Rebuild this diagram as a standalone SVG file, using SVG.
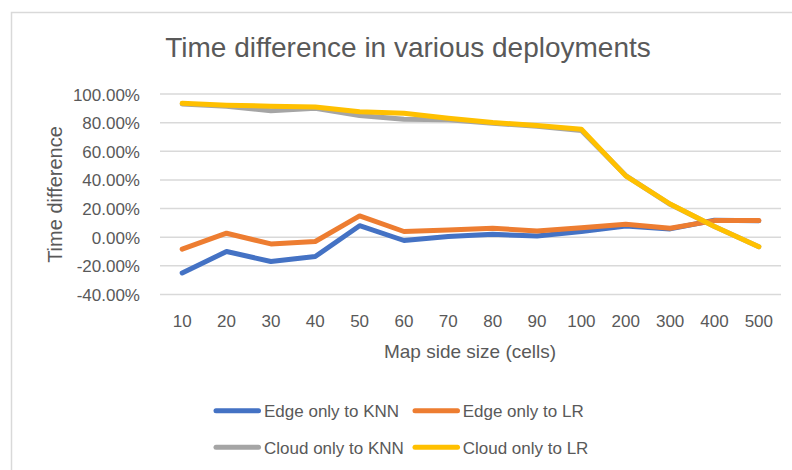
<svg xmlns="http://www.w3.org/2000/svg" width="792" height="470" viewBox="0 0 792 470">
  <style>
    text { font-family: "Liberation Sans", Arial, sans-serif; fill: #595959; }
    .title { font-size: 28px; text-anchor: middle; }
    .tick { font-size: 17px; }
    .ytick { text-anchor: end; }
    .xtick { text-anchor: middle; }
    .axis-title { font-size: 19px; text-anchor: middle; }
    .legend-text { font-size: 17px; }
    .grid line { stroke: #d9d9d9; stroke-width: 1.5; }
    .series { fill: none; stroke-width: 5; stroke-linejoin: round; stroke-linecap: round; }
    .knn-edge { stroke: #4472C4; }
    .lr-edge { stroke: #ED7D31; }
    .knn-cloud { stroke: #A5A5A5; }
    .lr-cloud { stroke: #FFC000; }
  </style>

  <rect width="792" height="470" fill="#ffffff"/>
  <!-- chart frame -->
  <path d="M11.5,470 V12.5 H792" fill="none" stroke="#d9d9d9" stroke-width="1.5"/>

  <text class="title" x="408" y="57">Time difference in various deployments</text>

  <!-- horizontal gridlines, 100% down to -40% -->
  <g class="grid">
    <line x1="160" y1="94" x2="781" y2="94"/>
    <line x1="160" y1="122.64" x2="781" y2="122.64"/>
    <line x1="160" y1="151.29" x2="781" y2="151.29"/>
    <line x1="160" y1="179.93" x2="781" y2="179.93"/>
    <line x1="160" y1="208.57" x2="781" y2="208.57"/>
    <line x1="160" y1="237.21" x2="781" y2="237.21"/>
    <line x1="160" y1="265.86" x2="781" y2="265.86"/>
    <line x1="160" y1="294.5" x2="781" y2="294.5"/>
  </g>

  <!-- y axis labels -->
  <g class="tick ytick">
    <text x="140" y="100.5">100.00%</text>
    <text x="140" y="129.1">80.00%</text>
    <text x="140" y="157.8">60.00%</text>
    <text x="140" y="186.4">40.00%</text>
    <text x="140" y="215.1">20.00%</text>
    <text x="140" y="243.7">0.00%</text>
    <text x="140" y="272.4">-20.00%</text>
    <text x="140" y="301">-40.00%</text>
  </g>

  <!-- x axis labels -->
  <g class="tick xtick">
    <text x="182.18" y="326.5">10</text>
    <text x="226.54" y="326.5">20</text>
    <text x="270.89" y="326.5">30</text>
    <text x="315.25" y="326.5">40</text>
    <text x="359.61" y="326.5">50</text>
    <text x="403.96" y="326.5">60</text>
    <text x="448.32" y="326.5">70</text>
    <text x="492.68" y="326.5">80</text>
    <text x="537.04" y="326.5">90</text>
    <text x="581.39" y="326.5">100</text>
    <text x="625.75" y="326.5">200</text>
    <text x="670.11" y="326.5">300</text>
    <text x="714.46" y="326.5">400</text>
    <text x="758.82" y="326.5">500</text>
  </g>

  <text class="axis-title" x="470" y="357.5">Map side size (cells)</text>
  <text class="axis-title" transform="translate(61.5,194.5) rotate(-90)" style="font-size:20px">Time difference</text>

  <!-- data series -->
  <g id="connectors">
    <polyline id="edge-knn" class="series knn-edge" points="182.18,273.0 226.54,251.5 270.89,261.5 315.25,256.5 359.61,225.7 403.96,240.5 448.32,236.6 492.68,234.3 537.04,236.1 581.39,231.6 625.75,226.0 670.11,228.9 714.46,220.3 758.82,220.7"/>
    <polyline id="edge-lr" class="series lr-edge" points="182.18,249.2 226.54,233.2 270.89,243.9 315.25,241.5 359.61,215.9 403.96,231.5 448.32,230.0 492.68,228.3 537.04,231.0 581.39,227.7 625.75,224.3 670.11,228.3 714.46,220.6 758.82,220.6"/>
    <polyline id="cloud-knn" class="series knn-cloud" points="182.18,104.0 226.54,106.2 270.89,110.7 315.25,108.3 359.61,115.5 403.96,119.3 448.32,119.8 492.68,123.3 537.04,126.2 581.39,130.5 625.75,175.6 670.11,204.3 714.46,226.5 758.82,246.7"/>
    <polyline id="cloud-lr" class="series lr-cloud" points="182.18,103.3 226.54,105.2 270.89,106.2 315.25,106.9 359.61,111.7 403.96,113.3 448.32,118.3 492.68,122.6 537.04,125.5 581.39,129.2 625.75,175.9 670.11,204.0 714.46,226.5 758.82,246.7"/>
  </g>

  <!-- legend -->
  <g id="legend-edge-knn">
    <line class="series knn-edge" x1="216" y1="410.7" x2="258.5" y2="410.7" stroke-width="4.5"/>
    <text class="legend-text" x="264" y="416.7">Edge only to KNN</text>
  </g>
  <g id="legend-edge-lr">
    <line class="series lr-edge" x1="415" y1="410.7" x2="457.5" y2="410.7" stroke-width="4.5"/>
    <text class="legend-text" x="462.7" y="416.7">Edge only to LR</text>
  </g>
  <g id="legend-cloud-knn">
    <line class="series knn-cloud" x1="216" y1="447.3" x2="258.5" y2="447.3" stroke-width="4.5"/>
    <text class="legend-text" x="264" y="453.5">Cloud only to KNN</text>
  </g>
  <g id="legend-cloud-lr">
    <line class="series lr-cloud" x1="415" y1="447.3" x2="457.5" y2="447.3" stroke-width="4.5"/>
    <text class="legend-text" x="462.7" y="453.5">Cloud only to LR</text>
  </g>
</svg>
